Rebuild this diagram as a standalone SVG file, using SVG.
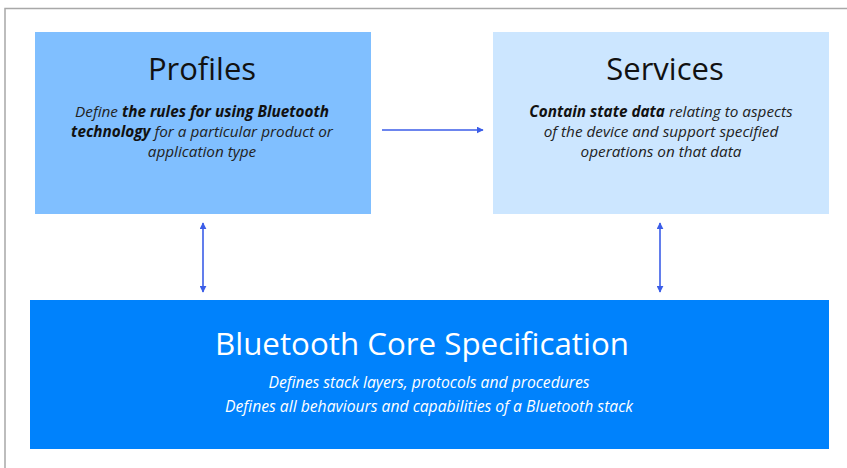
<svg xmlns="http://www.w3.org/2000/svg" width="847" height="468" viewBox="0 0 847 468">
<defs>
<style>
.t{font-family:"Open Sans","Noto Sans",sans-serif;text-anchor:middle}
.title{font-size:31px;fill:#111}
.body{font-size:15.3px;font-style:italic;fill:#222}
.b{font-weight:bold;fill:#111}
.core{font-size:31.3px;fill:#fff}
.cb{font-size:15.7px;font-style:italic;fill:#fff}
.con{stroke:#3b5de8;stroke-width:1.6;fill:none}
</style>
<marker id="ah" viewBox="0 0 10 10" refX="9" refY="5" markerWidth="7" markerHeight="7" orient="auto-start-reverse" markerUnits="userSpaceOnUse">
<path d="M0,0 L10,5 L0,10 z" fill="#3b5de8"/>
</marker>
</defs>
<rect width="847" height="468" fill="#fff"/>
<path d="M5,468 V8.5 H847" stroke="#a8a8a8" stroke-width="1.5" fill="none"/>
<g id="profiles">
<rect x="35" y="32" width="336" height="182" fill="#80bfff"/>
<text class="t title" x="202" y="80">Profiles</text>
<text class="t body" x="202" y="117">Define <tspan class="b">the rules for using Bluetooth</tspan></text>
<text class="t body" x="202" y="137"><tspan class="b">technology</tspan> for a particular product or</text>
<text class="t body" x="202" y="157">application type</text>
</g>
<g id="services">
<rect x="493" y="32" width="336" height="182" fill="#cce6ff"/>
<text class="t title" x="665" y="80">Services</text>
<text class="t body" x="661" y="117"><tspan class="b">Contain state data</tspan> relating to aspects</text>
<text class="t body" x="661" y="137">of the device and support specified</text>
<text class="t body" x="661" y="157">operations on that data</text>
</g>
<g id="core">
<rect x="30" y="300" width="799" height="149" fill="#0082fc"/>
<text class="t core" x="422" y="355">Bluetooth Core Specification</text>
<text class="t cb" x="429" y="388">Defines stack layers, protocols and procedures</text>
<text class="t cb" x="429" y="412">Defines all behaviours and capabilities of a Bluetooth stack</text>
</g>
<g id="connectors">
<line class="con" x1="382" y1="130" x2="483" y2="130" marker-end="url(#ah)"/>
<line class="con" x1="203" y1="223" x2="203" y2="292" marker-start="url(#ah)" marker-end="url(#ah)"/>
<line class="con" x1="660" y1="223" x2="660" y2="292" marker-start="url(#ah)" marker-end="url(#ah)"/>
</g>
</svg>
